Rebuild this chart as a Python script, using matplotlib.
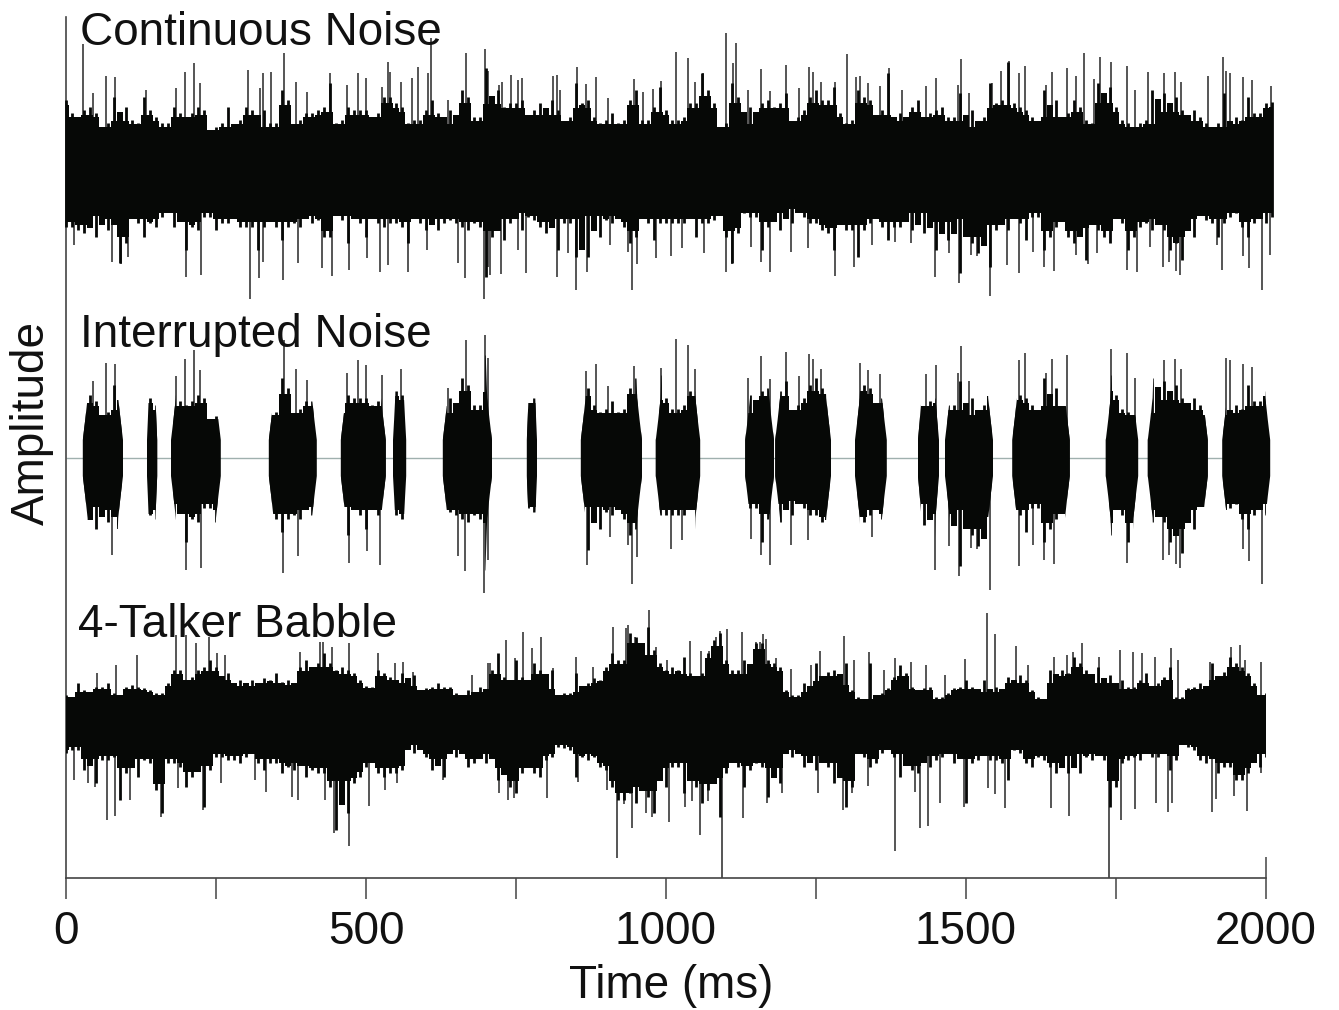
import numpy as np
import matplotlib
matplotlib.use("Agg")
import matplotlib.pyplot as plt
from matplotlib.patches import Polygon

plt.rcParams['font.family'] = ['Liberation Sans', 'DejaVu Sans']

# envelope samples, one every 10 ms (amplitude in display units)
cont_up = [68,55,51,58,61,55,41,45,71,51,61,48,45,71,58,51,45,45,61,55,51,55,61,58,38,41,45,61,38,48,61,58,45,58,45,45,78,68,41,48,
           55,55,58,61,85,45,48,61,58,58,58,51,55,71,71,65,61,45,48,48,58,68,55,48,58,45,78,71,51,51,100,
           70,78,61,65,65,68,48,58,65,41,68,58,45,51,85,65,68,51,45,48,55,45,48,68,78,48,48,61,81,58,48,48,51,65,65,95,78,65,41,45,
           85,71,48,61,45,65,68,61,65,75,45,51,58,71,78,68,68,81,55,45,48,78,71,68,48,58,
           95,51,55,51,61,68,48,55,58,61,51,51,75,45,58,41,51,85,65,68,106,65,61,58,51,38,78,55,68,45,55,68,61,48,45,85,71,81,61,48,
           45,41,45,48,78,41,75,61,71,58,51,58,51,45,40,45,75,45,51,48,71,55,55,65,66]
cont_low = [59,59,62,65,52,69,49,62,55,95,75,42,55,69,55,59,49,42,59,49,82,59,62,49,49,62,55,55,45,59,59,59,82,59,49,59,72,59,55,59,
            45,55,52,69,69,45,52,75,49,55,69,49,55,59,55,55,59,75,49,55,62,55,62,55,52,55,59,62,55,59,109,
            69,55,72,55,49,62,49,52,59,65,55,82,55,55,89,52,89,49,69,52,55,49,59,75,69,49,55,72,55,55,55,55,55,49,69,55,55,52,45,69,
            95,65,45,49,49,82,59,49,62,45,55,42,49,55,55,62,65,82,45,62,62,89,62,55,49,59,
            72,59,59,49,62,39,65,49,82,59,72,55,105,49,75,85,45,99,62,55,62,49,55,72,49,49,82,69,59,42,69,75,65,92,52,62,69,75,42,55,
            82,69,59,55,62,55,62,82,75,92,55,69,45,52,55,69,55,49,45,59,69,55,49,55,49]

cont_spike_up_t = [28,45,67,82,133,183,198,213,223,304,324,329,342,364,384,401,440,468,487,500,526,536,540,558,577,586,604,609,637,666,699,
                   704,722,727,741,753,760,812,818,824,852,867,884,904,946,961,979,992,1017,1036,1049,1062,1100,1111,1117,1137,1158,1174,1200,1221,1239,1245,1258,1282,1302,1317,1324,1336,1357,1372,
                   1394,1434,1450,1486,1491,1505,1543,1558,1571,1588,1598,1634,1644,1669,1683,1697,1713,1723,1742,1769,1781,1804,1830,1848,1859,1903,1929,1933,1940,1961,1977,2008]
cont_spike_up_a = [124,75,92,91,78,80,96,105,85,98,80,95,96,115,86,76,95,83,95,90,81,106,96,86,90,101,95,130,68,115,119,
                   97,83,86,93,88,90,92,93,78,101,84,91,70,89,76,79,87,116,110,86,95,135,105,125,78,99,77,103,80,101,96,86,86,114,91,92,85,82,100,
                   78,82,90,83,109,75,85,97,107,95,102,83,96,100,92,115,89,111,106,102,78,96,95,96,86,92,111,97,95,91,88,82]
cont_spike_low_t = [13,76,92,103,200,225,307,322,329,362,386,426,443,471,501,523,536,570,601,654,665,697,704,
                    707,725,754,767,818,836,850,869,907,936,943,952,984,1008,1026,1064,1100,1110,1142,1158,1174,1208,1237,1281,1313,1343,
                    1382,1408,1448,1471,1489,1509,1519,1540,1568,1588,1612,1630,1646,1683,1704,1718,1769,1785,1806,1829,1838,1850,1857,1918,1926,1961,1971,1994,2006]
cont_spike_low_a = [77,94,96,89,109,107,131,110,94,112,95,100,108,102,90,104,97,104,82,95,110,131,99,
                    107,106,82,105,109,85,122,104,77,84,122,96,90,88,80,85,104,96,79,94,104,84,80,108,99,77,
                    74,75,109,85,115,87,88,128,97,105,84,99,103,87,96,85,102,104,79,99,94,103,107,77,102,88,100,122,87]

babble_up = [21,19,33,26,19,29,29,33,23,19,29,31,29,28,26,23,23,33,46,46,26,39,46,49,56,49,39,43,33,36,33,36,29,38,36,43,34,36,33,49,
             56,49,53,63,53,46,49,46,43,36,30,29,46,43,39,36,43,33,41,23,28,29,33,29,29,23,19,26,23,29,26,
             46,63,39,36,56,39,29,53,46,29,46,19,23,23,43,26,33,38,36,49,63,56,56,83,79,53,89,66,53,46,49,46,59,43,39,43,63,76,83,56,
             46,46,56,39,73,73,56,53,49,26,21,21,33,26,53,38,44,46,34,53,26,19,13,53,18,23,
             28,39,51,43,29,21,28,29,19,19,23,28,29,36,29,24,36,26,29,19,39,36,41,36,26,19,9,46,36,46,43,59,53,46,36,49,36,41,23,36,
             29,29,36,43,26,33,39,49,19,19,28,29,33,28,53,39,44,59,53,49,43,33,9,23]
babble_low = [37,34,34,54,47,67,44,44,41,84,57,47,61,44,47,74,97,47,47,51,71,61,51,91,54,41,41,44,44,47,41,37,47,54,47,47,57,51,54,47,
              61,54,57,57,71,114,71,97,67,61,51,44,57,61,57,57,54,31,37,31,41,54,47,61,37,41,31,51,47,34,47,
              41,64,57,71,77,57,41,57,61,44,41,31,32,34,61,41,44,41,51,54,71,84,84,77,87,64,81,97,57,71,51,51,77,47,71,87,74,67,101,57,
              41,51,71,54,47,51,81,57,67,34,41,37,51,44,54,41,51,67,47,91,71,31,41,51,47,37,
              27,41,61,41,54,57,37,51,44,41,37,47,41,87,47,44,34,44,44,47,64,34,37,47,51,41,44,51,57,44,57,41,57,41,44,34,44,91,71,47,
              44,41,44,31,41,41,31,54,44,27,31,34,44,47,37,57,51,51,64,64,57,37,51,41]

babble_spike_up_t = [51,83,119,183,200,216,238,251,265,390,423,429,443,472,520,548,561,579,676,704,
                     707,734,748,761,776,792,811,850,878,912,933,937,948,971,983,1001,1040,1058,1071,1083,1090,1102,1126,1150,1157,1162,1167,1184,1209,1241,1257,1297,1313,1338,1363,
                     1382,1408,1433,1465,1498,1535,1549,1583,1604,1646,1669,1679,1694,1722,1757,1778,1794,1815,1841,1854,1907,1942,1956,1965,1991]
babble_spike_up_a = [43,51,61,81,81,73,79,63,61,64,74,74,69,73,63,53,54,44,41,53,
                     53,76,58,84,68,79,48,59,49,89,88,91,79,106,69,56,75,65,65,79,85,87,84,74,74,82,77,58,47,51,65,80,56,64,46,
                     58,54,51,41,57,103,82,70,51,59,61,64,73,59,66,64,63,59,68,56,54,69,71,56,54]
babble_spike_low_t = [14,37,48,69,82,107,158,186,229,259,315,334,376,387,432,447,457,471,505,532,551,629,
                      722,737,746,801,853,901,919,930,943,966,977,1005,1031,1043,1056,1070,1094,1128,1169,1193,1253,1295,1310,1336,
                      1382,1415,1424,1436,1456,1496,1536,1549,1565,1642,1672,1739,1759,1781,1817,1836,1843,1910,1917,1947,1968,1991]
babble_spike_low_a = [64,67,71,104,100,84,101,72,94,67,64,76,81,84,84,117,86,130,90,74,67,64,
                      77,84,82,82,66,74,142,88,112,97,101,106,91,85,119,85,162,102,87,77,77,94,77,70,
                      135,76,112,110,87,91,72,78,92,92,100,162,104,93,87,96,87,96,83,80,95,57]

burst_on = [28,135,175,338,458,545,628,768,858,983,1132,1182,1315,1420,1465,1577,1733,1803,1927]
burst_off = [95,152,258,418,533,567,710,785,960,1057,1180,1275,1368,1455,1545,1673,1787,1903,2007]

trace_names = ["Continuous Noise", "Interrupted Noise", "4-Talker Babble"]
x_major = [0, 500, 1000, 1500, 2000]
x_minor = [250, 750, 1250, 1750]

body_color = '#060806'
spike_color = '#484848'
axis_color = '#444444'
spike_lw = 1.3
column_lw = 2.0

cont_y = 710
inter_y = 420
babble_y = 162
inter_gain = 1.03

fig = plt.figure(figsize=(13.39, 10.10), dpi=100)
ax = fig.add_axes([66 / 1339, 1 - 878 / 1010, 1200 / 1339, 861 / 1010])
ax.set_xlim(0, 2000)
ax.set_ylim(0, 861)


def valley(a):
    # middle of a sample and its neighbours: the solid part under the peaks
    a = np.asarray(a, dtype=float)
    return np.median(np.vstack([np.r_[a[0], a[:-1]], a, np.r_[a[1:], a[-1]]]), axis=0) * 0.92


def draw_trace(base, up, low, up_t, up_a, low_t, low_a, clip=False):
    n = min(len(up), len(low))
    t = np.arange(n) * 10
    up = np.array(up[:n])
    low = np.array(low[:n])
    ax.fill_between(t, base - valley(low), base + valley(up), step='mid', color=body_color, lw=0, zorder=3, clip_on=clip)
    ax.vlines(t, base - low, base + up, color=body_color, lw=column_lw, zorder=3, clip_on=clip)
    n = min(len(up_t), len(up_a))
    ax.vlines(up_t[:n], base, base + np.array(up_a[:n]), color=spike_color, lw=spike_lw, zorder=2, clip_on=clip)
    n = min(len(low_t), len(low_a))
    ax.vlines(low_t[:n], base - np.array(low_a[:n]), base, color=spike_color, lw=spike_lw, zorder=2, clip_on=clip)


draw_trace(cont_y, cont_up, cont_low, cont_spike_up_t, cont_spike_up_a, cont_spike_low_t, cont_spike_low_a)
draw_trace(babble_y, babble_up, babble_low, babble_spike_up_t, babble_spike_up_a, babble_spike_low_t, babble_spike_low_a, clip=True)

# interrupted noise: the same noise, gated
ax.hlines(inter_y, 0, 2000, color='#9fb0ae', lw=1.0, zorder=1)
t_all = np.arange(min(len(cont_up), len(cont_low))) * 10
up_arr = np.array(cont_up[:len(t_all)]) * inter_gain
low_arr = np.array(cont_low[:len(t_all)]) * inter_gain
up_t = np.array(cont_spike_up_t[:len(cont_spike_up_a)])
up_a = np.array(cont_spike_up_a[:len(up_t)]) * inter_gain
low_t = np.array(cont_spike_low_t[:len(cont_spike_low_a)])
low_a = np.array(cont_spike_low_a[:len(low_t)]) * inter_gain
for on, off in zip(burst_on, burst_off):
    ramp = min(16, (off - on) / 3)
    edge = ramp / 4
    half = [(on, 18), (on + edge, 38), (on + 2 * edge, 60), (on + ramp, 200),
            (off - ramp, 200), (off - 2 * edge, 60), (off - edge, 38), (off, 18)]
    outline = [(x, inter_y + h) for x, h in half] + [(x, inter_y - h) for x, h in reversed(half)]
    gate = Polygon(outline, closed=True, transform=ax.transData)
    coll = ax.fill_between(t_all, inter_y - valley(low_arr), inter_y + valley(up_arr), step='mid', color=body_color, lw=0, zorder=3)
    coll.set_clip_path(gate)
    cols = ax.vlines(t_all, inter_y - low_arr, inter_y + up_arr, color=body_color, lw=column_lw, zorder=3)
    cols.set_clip_path(gate)
    keep = (up_t > on + 4) & (up_t < off - 3)
    ax.vlines(up_t[keep], inter_y, inter_y + up_a[keep], color=spike_color, lw=spike_lw, zorder=2)
    keep = (low_t > on + 4) & (low_t < off - 3)
    ax.vlines(low_t[keep], inter_y - low_a[keep], inter_y, color=spike_color, lw=spike_lw, zorder=2)

for name, tx, ty in zip(trace_names, [23, 23, 20], [833, 531, 241]):
    ax.text(tx, ty, name, fontsize=33, color='#111111', va='baseline', ha='left', zorder=5)

for side in ['top', 'right']:
    ax.spines[side].set_visible(False)
ax.spines['left'].set_color(axis_color)
ax.spines['bottom'].set_color(axis_color)
ax.spines['left'].set_linewidth(1.2)
ax.spines['bottom'].set_linewidth(1.2)
ax.set_yticks([])
ax.set_xticks(x_major)
ax.set_xticks(x_minor, minor=True)
ax.tick_params(axis='x', which='both', direction='out', length=15, width=1.1, color=axis_color)
ax.tick_params(axis='x', which='major', labelsize=33, pad=8, labelcolor='#111111')
ax.vlines(2000, 0, 21, color=axis_color, lw=1.1, clip_on=False)

ax.set_xlabel("Time (ms)", fontsize=33, color='#111111')
ax.xaxis.set_label_coords(605 / 1200, -0.1)
ax.set_ylabel("Amplitude", fontsize=33, color='#111111')
ax.yaxis.set_label_coords(-12 / 1200, 455 / 861)

fig.savefig("out.png", dpi=100)
